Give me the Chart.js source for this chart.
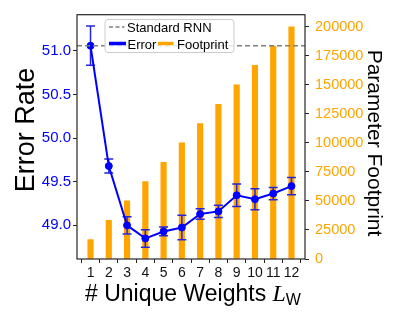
<!DOCTYPE html>
<html>
<head>
<meta charset="utf-8">
<script src="https://cdn.jsdelivr.net/npm/chart.js@4"></script>
<style>
  body { margin: 0; background: #fff; }
</style>
</head>
<body>
<canvas id="myChart" width="397" height="322"></canvas>
<script>
// values
const weights = [1, 2, 3, 4, 5, 6, 7, 8, 9, 10, 11, 12];
const errorRate = [51.06, 49.68, 49.00, 48.85, 48.93, 48.975, 49.13, 49.16, 49.345, 49.30, 49.365, 49.45];
const errorStd = [0.225, 0.08, 0.10, 0.10, 0.05, 0.14, 0.06, 0.07, 0.13, 0.12, 0.07, 0.10];
const footprint = [16700, 33300, 50000, 66700, 83300, 100000, 116700, 133300, 150000, 166700, 183300, 200000];
const standardRnn = 51.06;
const errorTicks = [49.0, 49.5, 50.0, 50.5, 51.0];
const footprintTicks = [0, 25000, 50000, 75000, 100000, 125000, 150000, 175000, 200000];

const BLUE = '#0000ff';
const ORANGE = '#ffa500';
const FONT = "'Liberation Sans', Arial, sans-serif";

const extras = {
    id: 'extras',
    // error bars go under the line and points
    beforeDatasetDraw(chart, args) {
        if (args.index !== 1) return;
        const ctx = chart.ctx, x = chart.scales.x, y = chart.scales.y;
        ctx.save();
        ctx.strokeStyle = '#2525e0';
        ctx.lineWidth = 1.5;
        weights.forEach((w, i) => {
            const px = x.getPixelForValue(w);
            const top = y.getPixelForValue(errorRate[i] + errorStd[i]);
            const bot = y.getPixelForValue(errorRate[i] - errorStd[i]);
            ctx.beginPath();
            ctx.moveTo(px, top); ctx.lineTo(px, bot);
            ctx.moveTo(px - 4.5, top); ctx.lineTo(px + 4.5, top);
            ctx.moveTo(px - 4.5, bot); ctx.lineTo(px + 4.5, bot);
            ctx.stroke();
        });
        ctx.restore();
    },
    afterDatasetsDraw(chart) {
        const ctx = chart.ctx, a = chart.chartArea;
        const yy = chart.scales.y.getPixelForValue(standardRnn);
        ctx.save();
        ctx.strokeStyle = '#808080';
        ctx.lineWidth = 1.5;
        ctx.setLineDash([5, 3]);
        ctx.beginPath();
        ctx.moveTo(a.left, yy); ctx.lineTo(a.right, yy);
        ctx.stroke();
        ctx.setLineDash([]);
        // frame
        ctx.strokeStyle = '#262626';
        ctx.lineWidth = 1.2;
        ctx.strokeRect(a.left, a.top, a.right - a.left, a.bottom - a.top);
        ctx.restore();
    },
    afterDraw(chart) {
        const ctx = chart.ctx;
        ctx.save();
        ctx.fillStyle = '#000';

        // axis titles
        ctx.font = '27px ' + FONT;
        ctx.textAlign = 'center';
        ctx.textBaseline = 'alphabetic';
        ctx.save();
        ctx.translate(34, 130);
        ctx.rotate(-Math.PI / 2);
        ctx.fillText('Error Rate', 0, 0);
        ctx.restore();

        ctx.font = '21px ' + FONT;
        ctx.save();
        ctx.translate(368, 143);
        ctx.rotate(Math.PI / 2);
        ctx.fillText('Parameter Footprint', 0, 0);
        ctx.restore();

        ctx.textAlign = 'left';
        ctx.font = '23px ' + FONT;
        const label = '# Unique Weights ';
        ctx.fillText(label, 85, 301);
        let cx = 85 + ctx.measureText(label).width;
        ctx.font = 'italic 24px "Liberation Serif", serif';
        ctx.fillText('L', cx, 301);
        cx += ctx.measureText('L').width;
        ctx.font = '16px ' + FONT;
        ctx.fillText('W', cx, 305);

        // legend
        const lx = 105, ly = 19.5, lw = 129, lh = 33;
        ctx.beginPath();
        ctx.roundRect(lx, ly, lw, lh, 3);
        ctx.fillStyle = 'rgba(255,255,255,0.8)';
        ctx.fill();
        ctx.strokeStyle = '#cccccc';
        ctx.lineWidth = 1;
        ctx.stroke();

        ctx.lineWidth = 1.5;
        ctx.strokeStyle = '#808080';
        ctx.setLineDash([4, 2.5]);
        ctx.beginPath();
        ctx.moveTo(109, 27); ctx.lineTo(124.5, 27);
        ctx.stroke();
        ctx.setLineDash([]);

        ctx.lineWidth = 3.5;
        ctx.strokeStyle = BLUE;
        ctx.beginPath();
        ctx.moveTo(109, 43.5); ctx.lineTo(126, 43.5);
        ctx.stroke();
        ctx.strokeStyle = ORANGE;
        ctx.beginPath();
        ctx.moveTo(158, 43.5); ctx.lineTo(173.5, 43.5);
        ctx.stroke();

        ctx.fillStyle = '#000';
        ctx.font = '13px ' + FONT;
        ctx.fillText('Standard RNN', 127, 31.5);
        ctx.fillText('Error', 127.5, 48.5);
        ctx.fillText('Footprint', 177, 48.5);
        ctx.restore();
    }
};

const ctx = document.getElementById('myChart');

new Chart(ctx, {
    type: 'bar',
    data: {
        datasets: [{
            type: 'bar',
            label: 'Footprint',
            data: weights.map((w, i) => ({ x: w, y: footprint[i] })),
            backgroundColor: ORANGE,
            barThickness: 5.5,
            yAxisID: 'y2',
            order: 2
        }, {
            type: 'line',
            label: 'Error',
            data: weights.map((w, i) => ({ x: w, y: errorRate[i] })),
            borderColor: BLUE,
            backgroundColor: BLUE,
            borderWidth: 2,
            pointRadius: 3.5,
            pointBorderWidth: 1,
            tension: 0,
            yAxisID: 'y',
            order: 1
        }]
    },
    options: {
        responsive: false,
        animation: false,
        layout: { padding: { top: 5, left: 0, right: 0, bottom: 0 } },
        plugins: {
            legend: { display: false },
            tooltip: { enabled: false }
        },
        scales: {
            x: {
                type: 'linear',
                min: 0.26,
                max: 12.74,
                offset: false,
                afterBuildTicks: s => { s.ticks = weights.map(v => ({ value: v })); },
                afterFit: s => { s.height = 63; },
                grid: { drawOnChartArea: false, tickLength: 4, color: '#262626' },
                border: { display: false },
                ticks: {
                    color: '#111',
                    font: { family: FONT, size: 14 },
                    padding: 2,
                    maxRotation: 0,
                    autoSkip: false,
                    callback: v => String(v)
                }
            },
            y: {
                position: 'left',
                min: 48.614,
                max: 51.416,
                afterBuildTicks: s => { s.ticks = errorTicks.map(v => ({ value: v })); },
                afterFit: s => { s.width = 77; },
                grid: { drawOnChartArea: false, tickLength: 4, color: '#262626' },
                border: { display: false },
                ticks: {
                    color: BLUE,
                    font: { family: FONT, size: 15 },
                    padding: 2,
                    callback: v => v.toFixed(1)
                }
            },
            y2: {
                position: 'right',
                min: 0,
                max: 210400,
                afterBuildTicks: s => { s.ticks = footprintTicks.map(v => ({ value: v })); },
                afterFit: s => { s.width = 92; },
                grid: { drawOnChartArea: false, tickLength: 4, color: '#262626' },
                border: { display: false },
                ticks: {
                    color: ORANGE,
                    font: { family: FONT, size: 14.5 },
                    padding: 6,
                    callback: v => String(v)
                }
            }
        }
    },
    plugins: [extras]
});
</script>
</body>
</html>
